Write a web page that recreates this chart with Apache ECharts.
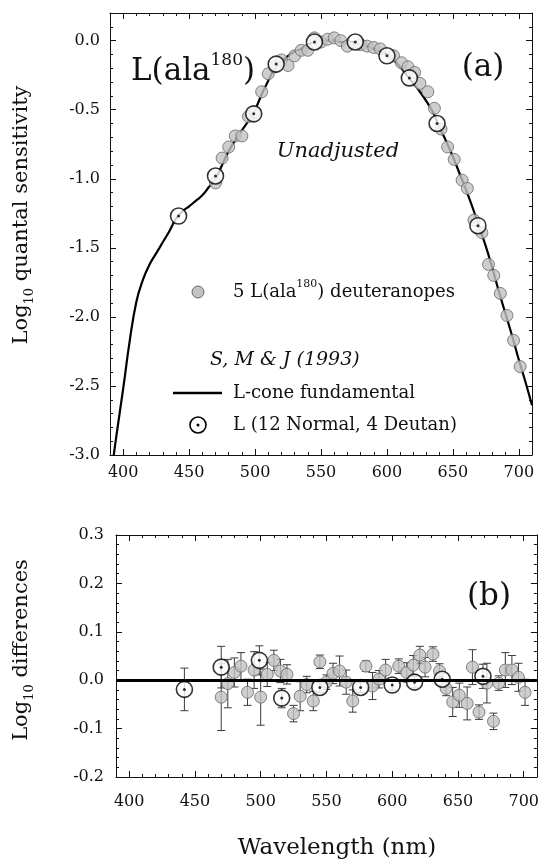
<!DOCTYPE html>
<html>
<head>
<meta charset="utf-8">
<script src="https://cdn.jsdelivr.net/npm/echarts@6/dist/echarts.min.js"></script>
<style>
  html, body { margin: 0; padding: 0; background: #fff; }
  #chart { width: 542px; height: 862px; }
</style>
</head>
<body>
<div id="chart"></div>
<script>
// L-cone fundamental, S, M & J (1993) - log10 quantal sensitivity
var fundNm = [390, 395, 400, 405, 410, 415, 420, 425, 430, 435, 440, 445, 450, 455, 460, 465, 470, 475, 480, 485,
  490, 495, 500, 505, 510, 515, 520, 525, 530, 535, 540, 545, 550, 555, 560, 565, 570, 575, 580, 585,
  590, 595, 600, 605, 610, 615, 620, 625, 630, 635, 640, 645, 650, 655, 660, 665, 670, 675, 680, 685,
  690, 695, 700, 705, 710];
var fundLog = [-3.20, -2.85, -2.52, -2.17, -1.89, -1.73, -1.62, -1.54, -1.46, -1.38, -1.29, -1.235, -1.20, -1.16, -1.12, -1.06, -1.00, -0.90, -0.80, -0.72,
  -0.65, -0.58, -0.50, -0.39, -0.29, -0.20, -0.15, -0.11, -0.08, -0.06, -0.03, -0.01, 0.00, 0.00, 0.00, -0.01, -0.01, -0.01, -0.03, -0.04,
  -0.06, -0.08, -0.10, -0.14, -0.19, -0.25, -0.31, -0.37, -0.44, -0.52, -0.63, -0.73, -0.84, -0.96, -1.08, -1.21, -1.35, -1.49, -1.65, -1.82,
  -1.98, -2.14, -2.31, -2.47, -2.64];

// 5 L(ala180) deuteranopes
var deutNm = [470, 475, 480, 485, 490, 495, 500, 505, 510, 515, 520, 525, 530, 535, 540, 545, 550, 555, 560, 565, 570,
  580, 585, 590, 595,
  605, 611, 616, 621, 625, 631, 636, 641, 646, 651, 657, 661, 666,
  672, 677, 681, 686, 691, 696, 701];
var deutLog = [-1.03, -0.85, -0.77, -0.69, -0.69, -0.55, -0.52, -0.37, -0.24, -0.19, -0.14, -0.18, -0.11, -0.07, -0.07, 0.02, -0.01, 0.01, 0.02, 0.00, -0.04,
  -0.03, -0.04, -0.05, -0.06,
  -0.11, -0.16, -0.19, -0.23, -0.31, -0.37, -0.49, -0.64, -0.77, -0.86, -1.01, -1.07, -1.30,
  -1.39, -1.62, -1.70, -1.83, -1.99, -2.17, -2.36];
var deutDiff = [-0.035, -0.007, 0.016, 0.029, -0.025, 0.021, -0.035, 0.012, 0.041, 0.019, 0.012, -0.069, -0.033, -0.009, -0.043, 0.038, -0.004, 0.014, 0.019, -0.004, -0.043,
  0.029, -0.012, 0.002, 0.021,
  0.029, 0.016, 0.031, 0.052, 0.027, 0.054, 0.019, -0.017, -0.045, -0.031, -0.048, 0.027, -0.066,
  -0.006, -0.085, -0.006, 0.021, 0.021, 0.006, -0.025];
var deutErr = [0.069, 0.05, 0.03, 0.028, 0.027, 0.038, 0.058, 0.025, 0.021, 0.024, 0.02, 0.017, 0.03, 0.017, 0.02, 0.014, 0.015, 0.021, 0.031, 0.025, 0.023,
  0.011, 0.028, 0.018, 0.022,
  0.015, 0.02, 0.02, 0.018, 0.02, 0.015, 0.015, 0.015, 0.03, 0.025, 0.034, 0.036, 0.015,
  0.041, 0.017, 0.015, 0.036, 0.03, 0.029, 0.027];

// L (12 Normal, 4 Deutan)
var normNm = [442, 470, 499, 516, 545, 576, 600, 617, 638, 669];
var normLog = [-1.27, -0.98, -0.53, -0.17, -0.01, -0.01, -0.11, -0.27, -0.60, -1.34];
var normDiff = [-0.019, 0.027, 0.041, -0.037, -0.015, -0.015, -0.010, -0.004, 0.002, 0.008];
var normErr = [0.044, 0.043, 0.03, 0.02, 0.01, 0.01, 0.01, 0.012, 0.012, 0.025];

// axis ticks
var xMajor = [400, 450, 500, 550, 600, 650, 700];
var xMinor = [390, 400, 410, 420, 430, 440, 450, 460, 470, 480, 490, 500, 510, 520, 530, 540, 550,
  560, 570, 580, 590, 600, 610, 620, 630, 640, 650, 660, 670, 680, 690, 700, 710];
var yTopMajor = [-3.0, -2.5, -2.0, -1.5, -1.0, -0.5, 0.0];
var yTopMinor = [-3.0, -2.9, -2.8, -2.7, -2.6, -2.5, -2.4, -2.3, -2.2, -2.1, -2.0, -1.9, -1.8, -1.7, -1.6,
  -1.5, -1.4, -1.3, -1.2, -1.1, -1.0, -0.9, -0.8, -0.7, -0.6, -0.5, -0.4, -0.3, -0.2, -0.1, 0.0, 0.1, 0.2];
var yBotMajor = [-0.2, -0.1, 0.0, 0.1, 0.2, 0.3];
var yBotMinor = [-0.2, -0.18, -0.16, -0.14, -0.12, -0.1, -0.08, -0.06, -0.04, -0.02, 0, 0.02, 0.04, 0.06, 0.08,
  0.1, 0.12, 0.14, 0.16, 0.18, 0.2, 0.22, 0.24, 0.26, 0.28, 0.3];

var SERIF = "'DejaVu Serif', serif";
var INK = '#111';

function zip(a, b) {
  return a.map(function (v, i) { return [v, b[i]]; });
}
function errRows(nm, v, e) {
  return nm.map(function (x, i) { return [x, v[i] - e[i], v[i] + e[i]]; });
}

// one visible axis with major ticks (and labels) plus one overlaid axis with minor ticks
function axes(grid, pos, min, max, major, minor, labelOpt) {
  var base = {
    type: 'value', gridIndex: grid, position: pos, min: min, max: max,
    splitLine: { show: false }
  };
  var a = Object.assign({}, base, {
    axisLine: { show: true, onZero: false, lineStyle: { color: INK, width: 1 } },
    axisTick: { show: true, inside: true, length: 6, customValues: major, lineStyle: { color: INK } },
    axisLabel: labelOpt ? Object.assign({ customValues: major, color: INK, fontFamily: SERIF, fontSize: 16 }, labelOpt) : { show: false }
  });
  var b = Object.assign({}, base, {
    axisLine: { show: false, onZero: false },
    axisTick: { show: true, inside: true, length: 3, customValues: minor, lineStyle: { color: INK } },
    axisLabel: { show: false }
  });
  return [a, b];
}

function fmt1(v) { return v.toFixed(1); }

var xAxes = [].concat(
  axes(0, 'bottom', 390, 710, xMajor, xMinor, { margin: 10 }),
  axes(0, 'top', 390, 710, xMajor, xMinor, null),
  axes(1, 'bottom', 390, 710, xMajor, xMinor, { margin: 17 }),
  axes(1, 'top', 390, 710, xMajor, xMinor, null)
);
var yAxes = [].concat(
  axes(0, 'left', -3.0, 0.2, yTopMajor, yTopMinor, { margin: 10, formatter: fmt1 }),
  axes(0, 'right', -3.0, 0.2, yTopMajor, yTopMinor, null),
  axes(1, 'left', -0.2, 0.3, yBotMajor, yBotMinor, { margin: 12, formatter: fmt1 }),
  axes(1, 'right', -0.2, 0.3, yBotMajor, yBotMinor, null)
);

function errorBar(params, api) {
  var x = api.value(0);
  var lo = api.coord([x, api.value(1)]);
  var hi = api.coord([x, api.value(2)]);
  var w = 4;
  var st = { stroke: '#3a3a3a', lineWidth: 1, fill: null };
  return {
    type: 'group',
    children: [
      { type: 'line', shape: { x1: lo[0], y1: lo[1], x2: hi[0], y2: hi[1] }, style: st },
      { type: 'line', shape: { x1: lo[0] - w, y1: lo[1], x2: lo[0] + w, y2: lo[1] }, style: st },
      { type: 'line', shape: { x1: hi[0] - w, y1: hi[1], x2: hi[0] + w, y2: hi[1] }, style: st }
    ]
  };
}

var grayDot = { color: '#c2c2c2', borderColor: '#666', borderWidth: 1 };
var ring = { color: '#fff', borderColor: '#000', borderWidth: 1.6 };

var series = [
  {
    name: 'L-cone fundamental', type: 'line', xAxisIndex: 0, yAxisIndex: 0,
    data: zip(fundNm, fundLog), symbol: 'none', smooth: 0.45, clip: true,
    lineStyle: { color: '#000', width: 2.2 }, z: 2
  },
  {
    name: 'deuteranopes', type: 'scatter', xAxisIndex: 0, yAxisIndex: 0,
    data: zip(deutNm, deutLog), symbolSize: 12, itemStyle: grayDot, z: 3
  },
  {
    name: 'L normal', type: 'scatter', xAxisIndex: 0, yAxisIndex: 0,
    data: zip(normNm, normLog), symbolSize: 16, itemStyle: ring, z: 4
  },
  {
    type: 'scatter', xAxisIndex: 0, yAxisIndex: 0,
    data: zip(normNm, normLog), symbolSize: 3, itemStyle: { color: '#000' }, z: 5
  },
  // panel (b)
  {
    type: 'custom', xAxisIndex: 4, yAxisIndex: 4, renderItem: errorBar,
    data: errRows(deutNm, deutDiff, deutErr), encode: { x: 0, y: [1, 2] }, z: 2,
    markLine: {
      silent: true, symbol: 'none', label: { show: false },
      lineStyle: { color: '#000', width: 3, type: 'solid' },
      data: [{ yAxis: 0 }]
    }
  },
  {
    type: 'custom', xAxisIndex: 4, yAxisIndex: 4, renderItem: errorBar,
    data: errRows(normNm, normDiff, normErr), encode: { x: 0, y: [1, 2] }, z: 2
  },
  {
    type: 'scatter', xAxisIndex: 4, yAxisIndex: 4,
    data: zip(deutNm, deutDiff), symbolSize: 12, itemStyle: grayDot, z: 3
  },
  {
    type: 'scatter', xAxisIndex: 4, yAxisIndex: 4,
    data: zip(normNm, normDiff), symbolSize: 16, itemStyle: ring, z: 4
  },
  {
    type: 'scatter', xAxisIndex: 4, yAxisIndex: 4,
    data: zip(normNm, normDiff), symbolSize: 3, itemStyle: { color: '#000' }, z: 5
  }
];

function txt(x, y, text, size, extra) {
  return {
    type: 'text', x: x, y: y, z: 10,
    style: Object.assign({
      text: text, fill: INK, fontFamily: SERIF, fontSize: size,
      align: 'left', verticalAlign: 'middle'
    }, extra || {})
  };
}
function supRich(main, sup) {
  return {
    m: { fontFamily: SERIF, fontSize: main, lineHeight: main + 8, verticalAlign: 'middle', fill: INK },
    s: { fontFamily: SERIF, fontSize: sup, lineHeight: sup, verticalAlign: 'top', fill: INK }
  };
}
function subRich(main, sub) {
  return {
    m: { fontFamily: SERIF, fontSize: main, lineHeight: main + 8, verticalAlign: 'middle', fill: INK },
    s: { fontFamily: SERIF, fontSize: sub, lineHeight: sub, verticalAlign: 'bottom', fill: INK }
  };
}

var yTitleTop = txt(22, 215, '{m|Log}{s|10}{m| quantal sensitivity}', 21, { align: 'center', rich: subRich(21, 13) });
var yTitleBot = txt(22, 650, '{m|Log}{s|10}{m| differences}', 21, { align: 'center', rich: subRich(21, 13) });
yTitleTop.rotation = Math.PI / 2;
yTitleBot.rotation = Math.PI / 2;

var graphics = [
  txt(131, 72, '{m|L(ala}{s|180}{m|)}', 31, { rich: supRich(31, 17) }),
  txt(483, 68, '(a)', 31, { align: 'center' }),
  txt(489, 597, '(b)', 31, { align: 'center' }),
  txt(338, 152, 'Unadjusted', 21, { align: 'center', fontStyle: 'italic' }),
  // legend
  { type: 'circle', shape: { cx: 198, cy: 292, r: 6 }, style: { fill: '#c2c2c2', stroke: '#666', lineWidth: 1 }, z: 10 },
  txt(233, 292, '{m|5 L(ala}{s|180}{m|) deuteranopes}', 18, { rich: supRich(18, 11) }),
  txt(210, 360, 'S, M & J (1993)', 19, { fontStyle: 'italic' }),
  { type: 'line', shape: { x1: 173, y1: 393, x2: 222, y2: 393 }, style: { stroke: '#000', lineWidth: 2.5 }, z: 10 },
  txt(233, 393, 'L-cone fundamental', 18),
  { type: 'circle', shape: { cx: 198, cy: 425, r: 8 }, style: { fill: '#fff', stroke: '#000', lineWidth: 1.6 }, z: 10 },
  { type: 'circle', shape: { cx: 198, cy: 425, r: 1.5 }, style: { fill: '#000' }, z: 11 },
  txt(233, 425, 'L (12 Normal, 4 Deutan)', 18),
  yTitleTop,
  yTitleBot,
  txt(337, 848, 'Wavelength (nm)', 23, { align: 'center' })
];

var chart = echarts.init(document.getElementById('chart'), null, { renderer: 'canvas' });
chart.setOption({
  animation: false,
  backgroundColor: '#fff',
  grid: [
    { left: 110, top: 13, width: 422, height: 442 },
    { left: 116, top: 535, width: 421, height: 242 }
  ],
  xAxis: xAxes,
  yAxis: yAxes,
  series: series,
  graphic: graphics
});
</script>
</body>
</html>
